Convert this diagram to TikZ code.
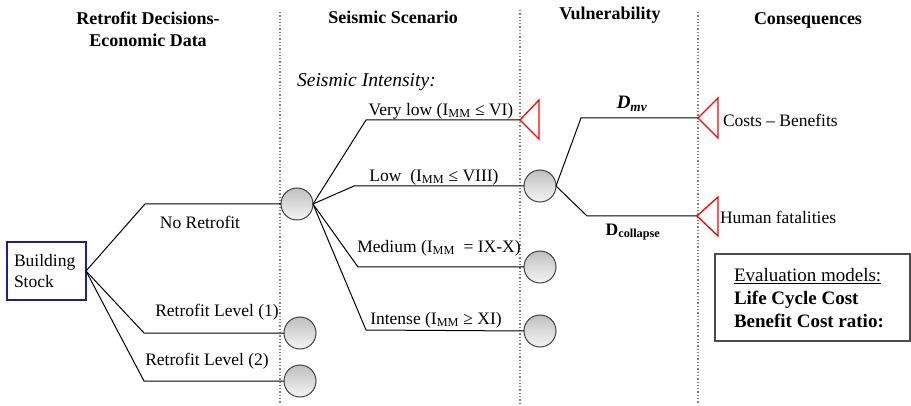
\documentclass[tikz,border=0pt]{standalone}
\usepackage{fontspec}
\setmainfont{Liberation Serif}
\begin{document}
\begin{tikzpicture}[x=1pt,y=-1pt,
  every node/.style={inner sep=0pt,outer sep=0pt},
  body/.style={font=\fontsize{17.5}{21}\selectfont\rmfamily},
  head/.style={font=\fontsize{18}{22}\selectfont\rmfamily\bfseries,align=center},
  chance/.style={circle,draw=black!75,line width=1pt,minimum size=32pt,top color=black!25,bottom color=black!4},
  branch/.style={line width=1pt,black},
  sep/.style={draw=black!50,dotted,line width=1.3pt},
  term/.style={draw=red,line width=1.3pt,line join=miter}]
\useasboundingbox (0,0) rectangle (911,406);
% separators
\coordinate (s1t) at (280,12); \coordinate (s1b) at (280,404);
\coordinate (s2t) at (520,10); \coordinate (s2b) at (520,404);
\coordinate (s3t) at (698,12); \coordinate (s3b) at (698,404);
\draw[sep] (s1t) -- (s1b);
\draw[sep] (s2t) -- (s2b);
\draw[sep] (s3t) -- (s3b);
% headings
\node[head] (h1) at (148,29) {Retrofit Decisions-\\Economic Data};
\node[head] (h2) at (393,17) {Seismic Scenario};
\node[head] (h3) at (610,15) {Vulnerability};
\node[head] (h4) at (808,20) {Consequences};
% building stock
\node[draw={rgb,255:red,30;green,30;blue,150},line width=1.3pt,minimum width=79pt,minimum height=58pt,body,align=left,text width=65pt] (bs) at (46.5,271) {Building\\Stock};
% decision circles
\node[chance] (cnr) at (297,204) {};
\node[chance] (cr1) at (300,333) {};
\node[chance] (cr2) at (300,381) {};
\draw[branch] (bs.east) -- (145,204) -- (cnr.west);
\draw[branch] (bs.east) -- (144,333) -- (cr1.west);
\draw[branch] (bs.east) -- (144,381) -- (cr2.west);
\node[body] (lnr) at (200,222) {No Retrofit};
\node[body] (lr1) at (217,312) {Retrofit Level (1)};
\node[body] (lr2) at (207,361) {Retrofit Level (2)};
% seismic
\node[anchor=west,font=\fontsize{19.6}{23}\selectfont\rmfamily\itshape] (si) at (297,82) {Seismic Intensity:};
\coordinate (tvl) at (520,120);
\node[chance] (clow) at (540,186) {};
\node[chance] (cmed) at (540,267) {};
\node[chance] (cint) at (540,331) {};
\draw[branch] (cnr.east) -- (366,120) -- (tvl);
\draw[branch] (cnr.east) -- (354,186) -- (clow.west);
\draw[branch] (cnr.east) -- (358,267) -- (cmed.west);
\draw[branch] (cnr.east) -- (366,330) -- (cint.west);
\draw[term] (tvl) -- ++(19,-20) -- ++(0,39) -- cycle;
\node[body] (lvl) at (441,111) {Very low (I\textsubscript{MM} ≤ VI)};
\node[body] (llo) at (434,177) {Low\ \ (I\textsubscript{MM} ≤ VIII)};
\node[body] (lme) at (439,248) {Medium (I\textsubscript{MM}\ \ = IX-X)};
\node[body] (lin) at (436,320) {Intense (I\textsubscript{MM} ≥ XI)};
% vulnerability
\coordinate (tcb) at (698,118);
\coordinate (thf) at (697,216);
\draw[branch] (clow.east) -- (581,118) -- (tcb);
\draw[branch] (clow.east) -- (587,216) -- (thf);
\draw[term] (tcb) -- ++(20,-20) -- ++(0,40) -- cycle;
\draw[term] (thf) -- ++(21,-19) -- ++(0,39) -- cycle;
\node[font=\fontsize{19}{22}\selectfont\rmfamily\bfseries\itshape] (dmv) at (632,104) {D\textsubscript{mv}};
\node[font=\fontsize{17.5}{21}\selectfont\rmfamily\bfseries] (dco) at (633,232) {D\textsubscript{collapse}};
% consequences
\node[body,anchor=west] (lcb) at (723,120) {Costs -- Benefits};
\node[body,anchor=west] (lhf) at (720,217) {Human fatalities};
\node[draw=black!70,line width=1.3pt,minimum width=195pt,minimum height=87pt] (eval) at (812.5,297.5) {};
\node[anchor=west,align=left,font=\fontsize{19}{23}\selectfont\rmfamily] (evt) at (734,298) {\underline{Evaluation models:}\\\textbf{Life Cycle Cost}\\\textbf{Benefit Cost ratio:}};
\end{tikzpicture}
\end{document}
